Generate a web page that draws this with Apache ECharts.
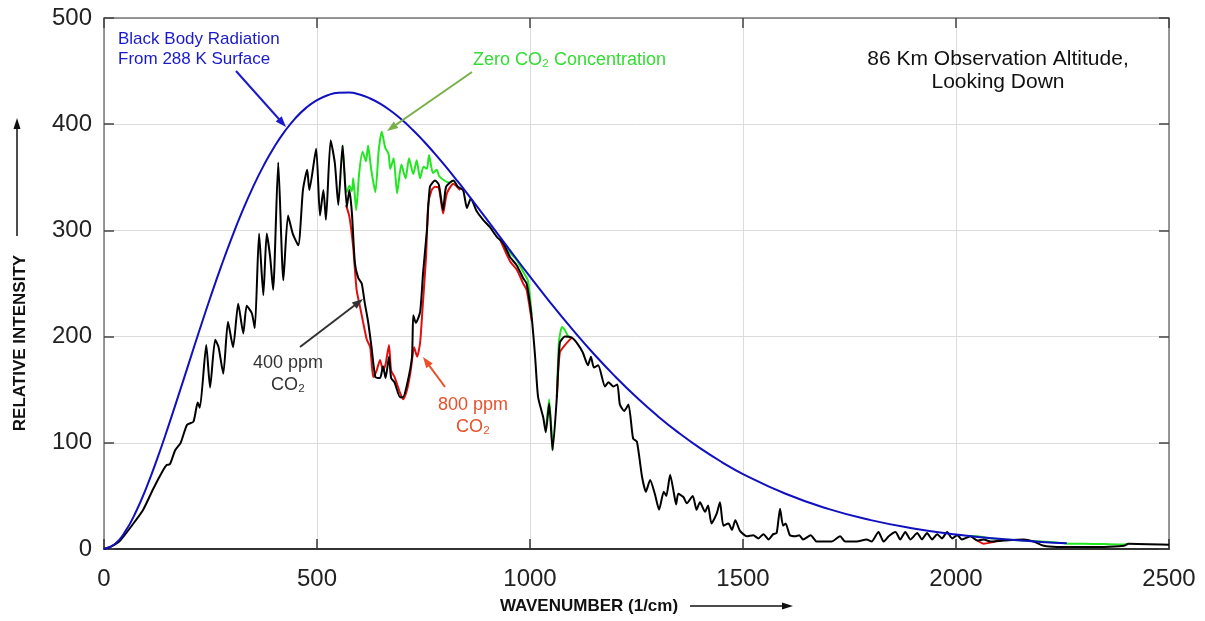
<!DOCTYPE html>
<html>
<head>
<meta charset="utf-8">
<script src="https://cdn.jsdelivr.net/npm/echarts@6/dist/echarts.min.js"></script>
<style>
html,body{margin:0;padding:0;background:#fff;}
#chart{width:1205px;height:621px;}
</style>
</head>
<body>
<div id="chart"></div>
<script>
// ---- Data ----
const xTicks = [0, 500, 1000, 1500, 2000, 2500];
const yTicks = [0, 100, 200, 300, 400, 500];

// Black body radiation, 288 K surface (blue)
const bbX = [0, 25, 50, 75, 100, 125, 150, 175, 200, 225, 250, 275, 300, 325, 350, 375, 400, 425, 450, 475, 500, 525, 550, 575, 600, 625, 650, 675, 700, 725, 750, 775, 800, 825, 850, 875, 900, 950, 1000, 1050, 1100, 1150, 1200, 1250, 1300, 1350, 1400, 1450, 1500, 1600, 1700, 1800, 1900, 2000, 2100, 2200, 2260];
const bbY = [0, 4.4, 16.6, 35.1, 58.3, 85.1, 114.3, 144.9, 176.0, 207.1, 237.3, 266.1, 293.2, 318.3, 341.0, 361.2, 378.8, 393.7, 406.0, 415.6, 422.7, 427.3, 429.6, 429.8, 428.0, 424.2, 418.9, 412.0, 403.9, 394.5, 384.2, 373.0, 361.2, 348.8, 336.1, 322.9, 309.7, 282.9, 256.5, 230.9, 206.6, 183.6, 162.4, 142.8, 125.1, 109.1, 94.7, 81.9, 70.6, 52.0, 37.8, 27.2, 19.4, 13.7, 9.6, 6.7, 5.4];

// 400 ppm CO2 (black)
const c400X = [0, 15, 38, 69, 92, 116, 140, 147, 155, 167, 180, 195, 210, 220, 225, 240, 249, 261, 269, 280, 291, 303, 315, 327, 335, 347, 354, 364, 374, 382, 390, 397, 409, 421, 432, 443, 456, 467, 477, 482, 498, 507, 515, 521, 532, 542, 550, 560, 570, 576, 582, 589, 597, 605, 612, 620, 628, 637, 648, 655, 661, 669, 674, 682, 695, 702, 712, 723, 726, 732, 742, 749, 758, 765, 777, 786, 796, 803, 820, 831, 843, 852, 861, 875, 890, 906, 922, 937, 953, 969, 984, 992, 1004, 1012, 1019, 1031, 1037, 1045, 1053, 1063, 1070, 1082, 1098, 1112, 1124, 1136, 1143, 1150, 1160, 1176, 1184, 1196, 1205, 1211, 1221, 1231, 1242, 1251, 1263, 1272, 1282, 1293, 1303, 1314, 1320, 1329, 1338, 1343, 1348, 1360, 1368, 1382, 1391, 1399, 1411, 1418, 1426, 1438, 1446, 1454, 1466, 1474, 1482, 1493, 1509, 1524, 1536, 1548, 1560, 1571, 1579, 1587, 1594, 1600, 1610, 1622, 1632, 1641, 1659, 1673, 1689, 1708, 1728, 1740, 1767, 1790, 1802, 1818, 1830, 1842, 1858, 1869, 1881, 1893, 1909, 1920, 1932, 1944, 1956, 1967, 1979, 1991, 2003, 2014, 2034, 2050, 2065, 2081, 2112, 2159, 2182, 2206, 2237, 2269, 2347, 2394, 2405, 2500];
const c400Y = [0, 2, 8, 24, 37, 57, 75, 79, 80, 93, 100, 117, 120, 138, 133, 192, 152, 197, 190, 165, 214, 190, 231, 203, 229, 222, 208, 297, 239, 297, 275, 244, 364, 253, 314, 297, 286, 338, 357, 338, 377, 314, 338, 310, 385, 363, 324, 380, 322, 338, 316, 269, 255, 250, 232, 214, 190, 162, 161, 172, 161, 181, 161, 157, 143, 143, 156, 181, 220, 213, 223, 260, 300, 341, 347, 343, 319, 341, 347, 341, 338, 321, 330, 318, 310, 303, 294, 288, 275, 267, 255, 250, 218, 181, 143, 124, 110, 137, 93, 143, 194, 200, 199, 193, 185, 173, 181, 171, 173, 153, 157, 153, 155, 136, 130, 136, 104, 101, 68, 54, 65, 52, 37, 54, 50, 70, 52, 42, 52, 49, 43, 50, 37, 44, 35, 41, 24, 33, 44, 22, 24, 18, 27, 17, 12, 13, 10, 14, 9, 14, 15, 38, 22, 24, 13, 12, 13, 9, 13, 7, 7, 7, 12, 7, 7, 9, 7, 16, 7, 12, 16, 9, 16, 9, 15, 9, 15, 9, 14, 10, 16, 10, 13, 9, 12, 8, 9, 7, 8, 9, 7, 3, 2, 2, 2, 3, 5, 4];

// Zero CO2 (green) – only where it departs from the 400 ppm curve (null = gap)
const c0X = [560, 570, 576, 582, 585, 592, 599, 607, 615, 620, 627, 637, 645, 652, 660, 668, 672, 680, 688, 698, 708, 716, 726, 734, 742, 750, 758, 763, 772, 781, 787, 799, 810, 820, 821,
             930, 953, 969, 984, 995, 1004, 1005,
             1037, 1045, 1053, 1054,
             1063, 1068, 1075, 1082, 1090, 1098, 1099,
             2034, 2050, 2065, 2081, 2112, 2159, 2200, 2240, 2264, 2300, 2350, 2394, 2405];
const c0Y = [380, 336, 342, 337, 349, 319, 354, 374, 365, 380, 358, 336, 376, 393, 378, 372, 358, 368, 335, 362, 349, 368, 353, 366, 349, 360, 358, 371, 354, 357, 351, 347, 345, 347, null,
             293, 279, 272, 261, 253, 220, null,
             111, 141, 93, null,
             143, 195, 209, 206, 200, 199, null,
             12, 12, 11, 10, 9, 8, 7, 6, 5, 5, 4.6, 4.3, 5];

// 800 ppm CO2 (red) – only where it departs from the 400 ppm curve (null = gap)
const c800X = [568, 576, 585, 593, 601, 608, 617, 625, 632, 640, 648, 655, 661, 669, 674, 682, 695, 702, 712, 720, 728, 735, 742, 748, 756, 761, 769, 777, 786, 796, 805, 820, 836, 837,
               930, 953, 969, 984, 992, 1004, 1005,
               1063, 1070, 1082, 1098, 1099,
               2050, 2065, 2081, 2100];
const c800Y = [324, 313, 284, 244, 228, 214, 197, 190, 162, 168, 178, 168, 174, 192, 168, 162, 147, 141, 151, 168, 190, 181, 194, 228, 275, 324, 338, 341, 340, 316, 335, 344, 338, null,
               291, 271, 263, 250, 244, 215, null,
               143, 185, 192, 199, null,
               8, 5, 6, 8];

// ---- Build ----
function pairs(xs, ys) {
  return xs.map((x, i) => [x, ys[i] === null ? '-' : ys[i]]);
}
const FONT = '"Liberation Sans", Arial, sans-serif';
const chart = echarts.init(document.getElementById('chart'), null, {renderer: 'canvas'});

function arrow(x1, y1, x2, y2, color, w, head, headW) {
  const dx = x2 - x1, dy = y2 - y1, L = Math.sqrt(dx * dx + dy * dy);
  const ux = dx / L, uy = dy / L;
  const bx = x2 - ux * head, by = y2 - uy * head;
  const px = -uy * headW / 2, py = ux * headW / 2;
  return [
    {type: 'line', silent: true, z: 100, shape: {x1: x1, y1: y1, x2: bx + ux * 1, y2: by + uy * 1}, style: {stroke: color, lineWidth: w}},
    {type: 'polygon', silent: true, z: 100, shape: {points: [[x2, y2], [bx + px, by + py], [bx - px, by - py]]}, style: {fill: color}}
  ];
}

const lineBase = {type: 'line', showSymbol: false, symbol: 'none', animation: false, connectNulls: false, smooth: 0.2};

const option = {
  animation: false,
  backgroundColor: '#fff',
  grid: {left: 104, right: 36, top: 18, bottom: 72, containLabel: false},
  xAxis: [
    {type: 'value', min: 0, max: 2500, interval: 500, position: 'bottom',
     axisLine: {show: true, onZero: false, lineStyle: {color: '#333', width: 2}},
     axisTick: {show: true, inside: true, length: 10, lineStyle: {color: '#333', width: 1.5}},
     axisLabel: {show: true, fontSize: 24, color: '#222', fontFamily: FONT, margin: 18,
                 formatter: v => (xTicks.indexOf(v) >= 0 ? String(v) : '')},
     splitLine: {show: true, lineStyle: {color: '#dcdcdc', width: 1}}},
    {type: 'value', min: 0, max: 2500, interval: 500, position: 'top',
     axisLine: {show: true, onZero: false, lineStyle: {color: '#777', width: 1.5}},
     axisTick: {show: true, inside: true, length: 10, lineStyle: {color: '#444', width: 1.5}},
     axisLabel: {show: false}, splitLine: {show: false}}
  ],
  yAxis: [
    {type: 'value', min: 0, max: 500, interval: 100, position: 'left',
     axisLine: {show: true, onZero: false, lineStyle: {color: '#777', width: 1.5}},
     axisTick: {show: true, inside: true, length: 10, lineStyle: {color: '#444', width: 1.5}},
     axisLabel: {show: true, fontSize: 24, color: '#222', fontFamily: FONT, margin: 12,
                 formatter: v => (yTicks.indexOf(v) >= 0 ? String(v) : '')},
     splitLine: {show: true, lineStyle: {color: '#dcdcdc', width: 1}}},
    {type: 'value', min: 0, max: 500, interval: 100, position: 'right',
     axisLine: {show: true, onZero: false, lineStyle: {color: '#777', width: 1.5}},
     axisTick: {show: true, inside: true, length: 10, lineStyle: {color: '#444', width: 1.5}},
     axisLabel: {show: false}, splitLine: {show: false}}
  ],
  series: [
    Object.assign({}, lineBase, {name: 'Zero CO2', z: 3, data: pairs(c0X, c0Y), lineStyle: {color: '#22e622', width: 2}}),
    Object.assign({}, lineBase, {name: '800 ppm', z: 4, data: pairs(c800X, c800Y), lineStyle: {color: '#e01010', width: 2}}),
    Object.assign({}, lineBase, {name: '400 ppm', z: 5, data: pairs(c400X, c400Y), lineStyle: {color: '#000', width: 2}}),
    Object.assign({}, lineBase, {name: 'Black body', z: 6, smooth: true, data: pairs(bbX, bbY), lineStyle: {color: '#1010c0', width: 2}})
  ],
  graphic: [].concat(
    [
      {type: 'text', left: 118, top: 29, silent: true, z: 100,
       style: {text: 'Black Body Radiation\nFrom 288 K Surface', fill: '#1a1acc', font: '17px ' + FONT, lineHeight: 20}},
      {type: 'text', left: 473, top: 51, silent: true, z: 100,
       style: {text: 'Zero CO₂ Concentration', fill: '#33dd33', font: '18px ' + FONT}},
      {type: 'text', x: 998, y: 48, silent: true, z: 100,
       style: {text: '86 Km Observation Altitude,\nLooking Down', fill: '#111', font: '21px ' + FONT, align: 'center', lineHeight: 23}},
      {type: 'text', x: 288, y: 352, silent: true, z: 100,
       style: {text: '400 ppm\nCO₂', fill: '#333', font: '18px ' + FONT, align: 'center', lineHeight: 22}},
      {type: 'text', x: 473, y: 394, silent: true, z: 100,
       style: {text: '800 ppm\nCO₂', fill: '#e8512c', font: '18px ' + FONT, align: 'center', lineHeight: 22}},
      {type: 'text', x: 20, y: 343, rotation: Math.PI / 2, silent: true, z: 100,
       style: {text: 'RELATIVE INTENSITY', fill: '#111', font: 'bold 17px ' + FONT, align: 'center', verticalAlign: 'middle'}},
      {type: 'text', x: 589, y: 606, silent: true, z: 100,
       style: {text: 'WAVENUMBER (1/cm)', fill: '#111', font: 'bold 17px ' + FONT, align: 'center', verticalAlign: 'middle'}}
    ],
    arrow(236, 71, 286, 127, '#1a1acc', 2, 11, 8),
    arrow(472, 72, 387, 131, '#78b048', 2, 11, 8),
    arrow(300, 347, 363, 299, '#333', 2, 11, 8),
    arrow(445, 387, 423, 357, '#e8512c', 2, 11, 8),
    arrow(17, 236, 17, 118, '#111', 1.5, 11, 7),
    arrow(690, 606, 793, 606, '#111', 1.5, 11, 7)
  )
};
chart.setOption(option);
</script>
</body>
</html>
